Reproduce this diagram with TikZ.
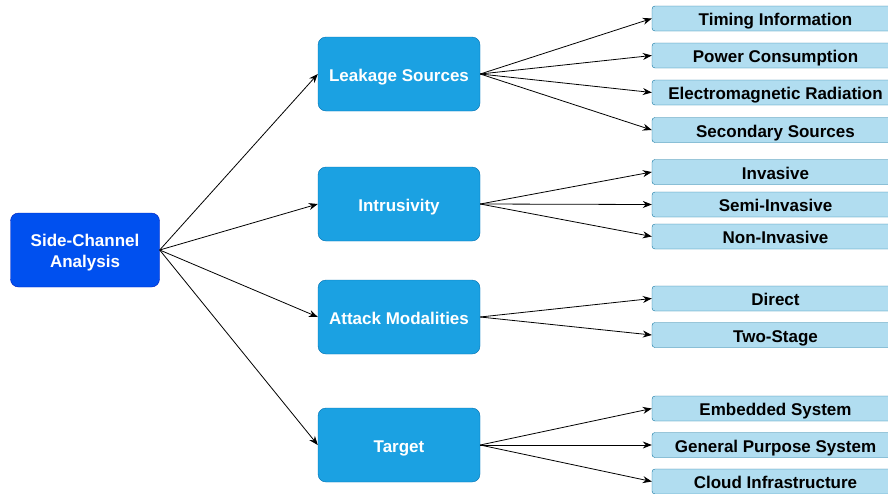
\documentclass[tikz,border=0pt]{standalone}
\usepackage{fontspec}
\setmainfont{Liberation Sans}
\usetikzlibrary{arrows.meta}
\definecolor{rootfill}{HTML}{0050EF}
\definecolor{rootline}{HTML}{001DBC}
\definecolor{midfill}{HTML}{1BA1E2}
\definecolor{midline}{HTML}{006EAF}
\definecolor{leaffill}{HTML}{B1DDF0}
\definecolor{leafline}{HTML}{10739E}
\tikzset{
  boxfont/.style={font=\bfseries\fontsize{17}{21}\selectfont},
  rootbox/.style={draw=rootline, fill=rootfill, rounded corners=8pt, minimum width=149pt,
    minimum height=74pt, text=white, boxfont, align=center, inner sep=0pt,
    text height=41pt, text depth=6pt},
  midbox/.style={draw=midline, fill=midfill, rounded corners=8pt, minimum width=162pt,
    minimum height=74pt, text=white, boxfont, align=center, inner sep=0pt,
    text height=17pt, text depth=3pt},
  leafbox/.style={draw=leafline, fill=leaffill, rounded corners=3pt, minimum width=247pt,
    minimum height=25pt, text=black, boxfont, inner sep=0pt,
    text height=17pt, text depth=3pt},
  link/.style={-{Stealth[length=9pt,width=7pt]}, line width=0.8pt, black},
}
\begin{document}
\begin{tikzpicture}[x=1pt,y=-1pt]
\useasboundingbox (0,0) rectangle (888,493);
% root
\node[rootbox] (root) at (85,250) {Side-Channel\\Analysis};
% categories
\node[midbox] (leak) at (399,74) {Leakage Sources};
\node[midbox] (intr) at (399,204) {Intrusivity};
\node[midbox] (atk) at (399,317) {Attack Modalities};
\node[midbox] (tgt) at (399,445) {Target};
% leaves
\node[leafbox] (l1) at (775.5,18.5) {Timing Information};
\node[leafbox] (l2) at (775.5,55.5) {Power Consumption};
\node[leafbox] (l3) at (775.5,92.5) {Electromagnetic Radiation};
\node[leafbox] (l4) at (775.5,130) {Secondary Sources};
\node[leafbox] (i1) at (775.5,172) {Invasive};
\node[leafbox] (i2) at (775.5,204.5) {Semi-Invasive};
\node[leafbox] (i3) at (775.5,236.5) {Non-Invasive};
\node[leafbox] (a1) at (775.5,298.5) {Direct};
\node[leafbox] (a2) at (775.5,335) {Two-Stage};
\node[leafbox] (t1) at (775.5,408.5) {Embedded System};
\node[leafbox] (t2) at (775.5,445) {General Purpose System};
\node[leafbox] (t3) at (775.5,481.5) {Cloud Infrastructure};
% connectors
\foreach \m in {leak,intr,atk,tgt} \draw[link] (root.east) -- (\m.west);
\foreach \l in {l1,l2,l3,l4} \draw[link] (leak.east) -- (\l.west);
\foreach \l in {i1,i2,i3} \draw[link] (intr.east) -- (\l.west);
\foreach \l in {a1,a2} \draw[link] (atk.east) -- (\l.west);
\foreach \l in {t1,t2,t3} \draw[link] (tgt.east) -- (\l.west);
\end{tikzpicture}
\end{document}
